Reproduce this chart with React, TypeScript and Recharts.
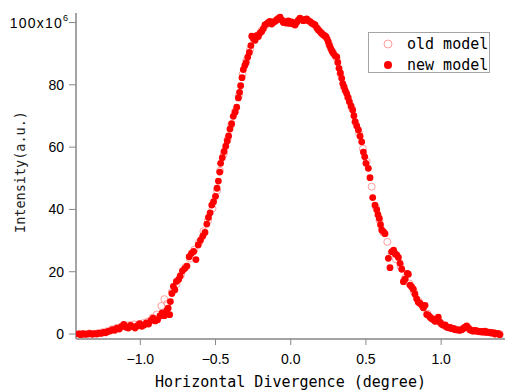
import React from 'react';
import { ScatterChart, Scatter, XAxis, YAxis, Legend, Label } from 'recharts';

const xTicks = [-1, -0.5, 0, 0.5, 1];
const yTicks = [0, 20, 40, 60, 80, 100];
const xDomain: [number, number] = [-1.4275, 1.4245];
const yDomain: [number, number] = [-1.6, 103.06];
const xTitle = 'Horizontal Divergence (degree)';
const yTitle = 'Intensity(a.u.)';
const seriesNames = ['old model', 'new model'];

const oldModel: [number, number][] = [
  [-1.40, 0.1], [-1.37, 0.0], [-1.34, 0.2], [-1.31, 0.1], [-1.28, 0.3], [-1.25, 0.6], [-1.22, 0.9],
  [-1.19, 1.5], [-1.16, 1.9], [-1.13, 2.3], [-1.10, 2.6], [-1.07, 2.9], [-1.04, 3.1], [-1.01, 3.0],
  [-0.98, 3.5], [-0.95, 4.0], [-0.92, 5.2], [-0.89, 6.3], [-0.86, 9.0], [-0.84, 11.2], [-0.82, 9.8],
  [-0.79, 13.5], [-0.76, 16.0], [-0.73, 18.9], [-0.70, 21.5], [-0.67, 24.2], [-0.64, 27.1], [-0.61, 29.4],
  [-0.58, 33.0], [-0.55, 36.5], [-0.52, 40.3], [-0.49, 46.0], [-0.47, 52.4], [-0.445, 57.8], [-0.42, 62.5],
  [-0.395, 67.2], [-0.37, 71.5], [-0.345, 76.5], [-0.32, 83.4], [-0.295, 87.8], [-0.27, 91.4], [-0.245, 94.6],
  [-0.22, 95.9], [-0.195, 97.4], [-0.17, 99.0], [-0.145, 100.1], [-0.12, 100.0], [-0.095, 100.7], [-0.07, 101.2],
  [-0.045, 100.4], [-0.02, 100.0], [0.005, 99.9], [0.03, 99.6], [0.055, 100.9], [0.08, 100.8], [0.105, 100.9],
  [0.13, 100.2], [0.155, 99.4], [0.18, 97.9], [0.205, 96.6], [0.23, 95.5], [0.255, 93.0], [0.28, 90.5],
  [0.305, 88.5], [0.33, 83.5], [0.355, 79.0], [0.38, 76.0], [0.405, 72.6], [0.43, 67.9], [0.455, 64.4],
  [0.48, 59.5], [0.505, 55.4], [0.538, 47.3], [0.565, 40.8], [0.59, 36.5], [0.615, 32.6], [0.642, 29.6],
  [0.67, 26.0], [0.70, 24.0], [0.73, 21.8], [0.76, 18.0], [0.79, 16.2], [0.82, 13.5], [0.85, 10.6],
  [0.88, 8.6], [0.91, 6.5], [0.94, 5.0], [0.97, 4.2], [1.00, 3.4], [1.03, 2.6], [1.06, 2.0],
  [1.09, 1.6], [1.12, 1.3], [1.15, 1.9], [1.18, 2.0], [1.21, 1.1], [1.24, 0.9], [1.27, 0.7],
  [1.30, 0.6], [1.33, 0.4], [1.36, 0.2], [1.39, 0.0],
];

const newModel: [number, number][] = [
  [-1.41, 0.0], [-1.395, -0.2], [-1.38, 0.1], [-1.365, -0.1], [-1.35, 0.0], [-1.335, 0.2], [-1.32, -0.1],
  [-1.305, 0.1], [-1.29, 0.0], [-1.275, 0.3], [-1.26, 0.2], [-1.245, 0.5], [-1.23, 0.4], [-1.215, 0.8],
  [-1.2, 1.0], [-1.185, 1.4], [-1.17, 1.2], [-1.155, 1.9], [-1.14, 1.6], [-1.125, 2.4], [-1.11, 3.1],
  [-1.095, 2.2], [-1.08, 1.9], [-1.065, 2.8], [-1.05, 2.4], [-1.035, 1.9], [-1.02, 2.6], [-1.005, 3.3],
  [-0.99, 2.5], [-0.975, 2.9], [-0.96, 3.6], [-0.945, 3.2], [-0.93, 4.3], [-0.915, 5.1], [-0.9, 4.2],
  [-0.885, 4.6], [-0.87, 5.8], [-0.855, 6.8], [-0.84, 5.9], [-0.825, 7.4], [-0.815, 8.3], [-0.805, 6.2],
  [-0.8, 10.4], [-0.79, 13.0], [-0.78, 15.3], [-0.77, 14.2], [-0.76, 16.9], [-0.745, 17.5], [-0.735, 18.6],
  [-0.72, 20.3], [-0.705, 21.0], [-0.69, 21.8], [-0.675, 24.8], [-0.66, 25.9], [-0.645, 26.5], [-0.63, 23.9],
  [-0.615, 28.6], [-0.6, 30.1], [-0.585, 31.4], [-0.57, 32.6], [-0.558, 35.3], [-0.547, 37.4], [-0.536, 38.9],
  [-0.525, 41.4], [-0.513, 42.5], [-0.5, 44.2], [-0.49, 46.8], [-0.481, 49.1], [-0.472, 52.0], [-0.466, 54.8],
  [-0.455, 56.6], [-0.443, 58.6], [-0.432, 60.3], [-0.422, 62.0], [-0.413, 63.6], [-0.404, 65.8], [-0.393, 67.5],
  [-0.382, 69.9], [-0.37, 71.2], [-0.359, 72.8], [-0.348, 75.8], [-0.34, 77.6], [-0.333, 79.7], [-0.324, 82.3],
  [-0.315, 84.9], [-0.305, 86.2], [-0.297, 87.1], [-0.286, 88.9], [-0.275, 90.4], [-0.265, 92.6], [-0.259, 95.6],
  [-0.248, 94.9], [-0.237, 94.3], [-0.226, 95.8], [-0.215, 95.5], [-0.204, 96.6], [-0.193, 97.1], [-0.182, 98.0],
  [-0.171, 99.2], [-0.16, 99.6], [-0.149, 100.0], [-0.138, 100.4], [-0.127, 99.5], [-0.115, 100.1], [-0.104, 100.4],
  [-0.093, 100.9], [-0.082, 101.3], [-0.071, 101.7], [-0.06, 100.8], [-0.049, 100.0], [-0.038, 100.3], [-0.027, 99.8],
  [-0.016, 100.5], [-0.005, 99.7], [0.006, 100.2], [0.017, 99.5], [0.029, 99.2], [0.04, 100.1], [0.051, 100.8],
  [0.062, 101.4], [0.073, 100.9], [0.084, 100.6], [0.095, 100.9], [0.106, 101.2], [0.117, 100.6], [0.128, 100.3],
  [0.14, 99.8], [0.151, 99.5], [0.162, 99.2], [0.173, 98.3], [0.184, 97.6], [0.195, 97.1], [0.206, 96.5],
  [0.217, 96.0], [0.226, 95.8], [0.235, 95.4], [0.243, 94.6], [0.25, 93.8], [0.258, 92.6], [0.266, 91.7],
  [0.274, 90.9], [0.283, 90.1], [0.294, 89.4], [0.306, 89.0], [0.313, 87.2], [0.321, 85.3], [0.33, 83.8],
  [0.339, 82.1], [0.346, 80.4], [0.354, 79.4], [0.363, 78.1], [0.372, 77.2], [0.381, 75.9], [0.39, 74.6],
  [0.401, 73.2], [0.412, 71.9], [0.42, 70.1], [0.428, 68.2], [0.439, 66.8], [0.45, 65.5], [0.461, 63.5],
  [0.472, 61.7], [0.483, 58.4], [0.492, 56.9], [0.5, 54.8], [0.516, 53.2], [0.527, 50.2], [0.545, 43.8],
  [0.56, 41.4], [0.572, 39.9], [0.58, 38.3], [0.589, 37.1], [0.597, 35.1], [0.605, 33.4], [0.616, 32.9],
  [0.627, 32.2], [0.649, 24.3], [0.66, 21.3], [0.671, 26.4], [0.684, 26.9], [0.694, 25.8], [0.705, 25.4],
  [0.716, 24.6], [0.727, 22.7], [0.738, 20.8], [0.749, 16.8], [0.76, 17.6], [0.775, 19.5], [0.782, 19.2],
  [0.793, 15.7], [0.804, 15.1], [0.815, 14.4], [0.826, 12.8], [0.837, 11.3], [0.848, 10.2], [0.86, 9.8],
  [0.871, 9.3], [0.882, 8.4], [0.893, 9.2], [0.904, 6.3], [0.915, 6.0], [0.926, 5.4], [0.937, 4.9],
  [0.948, 4.7], [0.959, 4.1], [0.97, 4.6], [0.981, 5.4], [0.992, 3.8], [1.003, 3.1], [1.015, 2.8],
  [1.026, 2.9], [1.037, 2.2], [1.048, 2.0], [1.059, 2.1], [1.07, 1.7], [1.081, 1.8], [1.092, 1.4],
  [1.104, 1.3], [1.115, 1.3], [1.126, 1.2], [1.137, 1.4], [1.148, 1.8], [1.159, 2.2], [1.17, 2.6],
  [1.181, 1.9], [1.192, 1.3], [1.203, 1.1], [1.214, 0.9], [1.225, 1.2], [1.236, 1.0], [1.248, 0.8],
  [1.259, 0.7], [1.27, 0.8], [1.281, 0.6], [1.292, 0.9], [1.303, 0.5], [1.314, 0.6], [1.325, 0.5],
  [1.336, 0.3], [1.347, 0.4], [1.358, 0.0], [1.369, 0.2], [1.38, 0.1], [1.39, -0.2],
];

const toPoints = (arr: [number, number][]) => arr.map(([x, y]) => ({ x, y }));
const oldData = toPoints(oldModel);
const newData = toPoints(newModel);

const RED = '#ff0000';
const PINK = '#ff9c9c';
const FRAME = '#a4a4a4';
const MONO = '"DejaVu Sans Mono", monospace';
const SANS = '"Liberation Sans", Arial, sans-serif';

const FilledDot = (p: any) =>
  p.cx == null ? <g /> : <circle cx={p.cx} cy={p.cy} r={3.4} fill={RED} />;
const HollowDot = (p: any) =>
  p.cx == null ? <g /> : <circle cx={p.cx} cy={p.cy} r={3.5} fill="none" stroke={PINK} strokeWidth={1} />;

const fmtX = (v: number) => (v < 0 ? '\u2212' : '') + Math.abs(v).toFixed(1);

const YTick = (props: any) => {
  const { x, y, payload } = props;
  if (payload.value === 100) {
    return (
      <text x={x + 4} y={y} dy="0.355em" textAnchor="end" fontSize={14} fontFamily={SANS} fill="#000">
        <tspan letterSpacing={1.2}>100x10</tspan>
        <tspan dy={-7} fontSize={9}>6</tspan>
      </text>
    );
  }
  return (
    <text x={x} y={y} dy="0.355em" textAnchor="end" fontSize={14} fontFamily={SANS} fill="#000">
      {String(payload.value)}
    </text>
  );
};

const EmptyTick = () => <g />;

const LegendBox = () => (
  <div
    style={{
      position: 'relative',
      width: 122,
      height: 41,
      boxSizing: 'border-box',
      border: `1px solid ${FRAME}`,
      background: '#fff',
      fontFamily: MONO,
      fontSize: 15,
      color: '#000',
    }}
  >
    {seriesNames.map((name, i) => (
      <div
        key={name}
        style={{ position: 'absolute', left: 0, top: 1 + i * 21, height: 20, width: 120, lineHeight: '20px' }}
      >
        <svg width={12} height={20} style={{ position: 'absolute', left: 13, top: 0 }}>
          {i === 0 ? (
            <circle cx={6} cy={10} r={4} fill="none" stroke={PINK} strokeWidth={1} />
          ) : (
            <circle cx={6} cy={10} r={4} fill={RED} />
          )}
        </svg>
        <span style={{ position: 'absolute', left: 38, top: 0, whiteSpace: 'pre' }}>{name}</span>
      </div>
    ))}
  </div>
);

const YTitle = (p: any) => {
  const vb = p.viewBox || { x: 6, y: 13, width: 70, height: 326 };
  const cx = vb.x + 14;
  const cy = vb.y + vb.height / 2 - 4;
  return (
    <text
      x={cx}
      y={cy}
      transform={`rotate(-90 ${cx} ${cy})`}
      textAnchor="middle"
      dominantBaseline="central"
      fontFamily={MONO}
      fontSize={13.5}
      fill="#222"
    >
      {yTitle}
    </text>
  );
};

export default function App() {
  return (
    <div style={{ position: 'absolute', left: 0, top: 0, width: 507, height: 392, background: '#fff' }}>
      <ScatterChart width={507} height={392} margin={{ top: 13, right: 2, bottom: 0, left: 6 }}>
        <XAxis
          xAxisId={0}
          type="number"
          dataKey="x"
          domain={xDomain}
          allowDataOverflow
          ticks={xTicks}
          tickFormatter={fmtX}
          height={53}
          tickSize={6}
          tickMargin={9}
          axisLine={{ stroke: FRAME, strokeWidth: 2 }}
          tickLine={{ stroke: '#888', strokeWidth: 1 }}
          tick={{ fontSize: 14, fontFamily: SANS, fill: '#000' }}
        >
          <Label
            value={xTitle}
            position="insideBottom"
            offset={5}
            style={{ fontFamily: MONO, fontSize: 15, fill: '#000' }}
          />
        </XAxis>
        <XAxis
          xAxisId="top"
          orientation="top"
          type="number"
          dataKey="x"
          domain={xDomain}
          allowDataOverflow
          ticks={xTicks}
          height={0}
          tickSize={7}
          axisLine={{ stroke: FRAME, strokeWidth: 2 }}
          tickLine={{ stroke: '#888', strokeWidth: 1 }}
          tick={EmptyTick}
        />
        <YAxis
          yAxisId={0}
          type="number"
          dataKey="y"
          domain={yDomain}
          allowDataOverflow
          ticks={yTicks}
          width={70}
          tickSize={7}
          tickMargin={5}
          axisLine={{ stroke: FRAME, strokeWidth: 2 }}
          tickLine={{ stroke: '#888', strokeWidth: 1 }}
          tick={YTick}
        >
          <Label content={YTitle} />
        </YAxis>
        <YAxis
          yAxisId="right"
          orientation="right"
          type="number"
          domain={yDomain}
          allowDataOverflow
          width={0}
          tick={false}
          tickLine={false}
          axisLine={{ stroke: FRAME, strokeWidth: 2 }}
        />
        <Legend
          layout="vertical"
          align="center"
          verticalAlign="middle"
          content={LegendBox}
          wrapperStyle={{ left: 368, top: 32, width: 122, height: 41 }}
        />
        <Scatter
          name={seriesNames[0]}
          data={oldData}
          xAxisId={0}
          yAxisId={0}
          shape={HollowDot}
          isAnimationActive={false}
        />
        <Scatter
          name={seriesNames[1]}
          data={newData}
          xAxisId={0}
          yAxisId={0}
          shape={FilledDot}
          isAnimationActive={false}
        />
      </ScatterChart>
    </div>
  );
}
